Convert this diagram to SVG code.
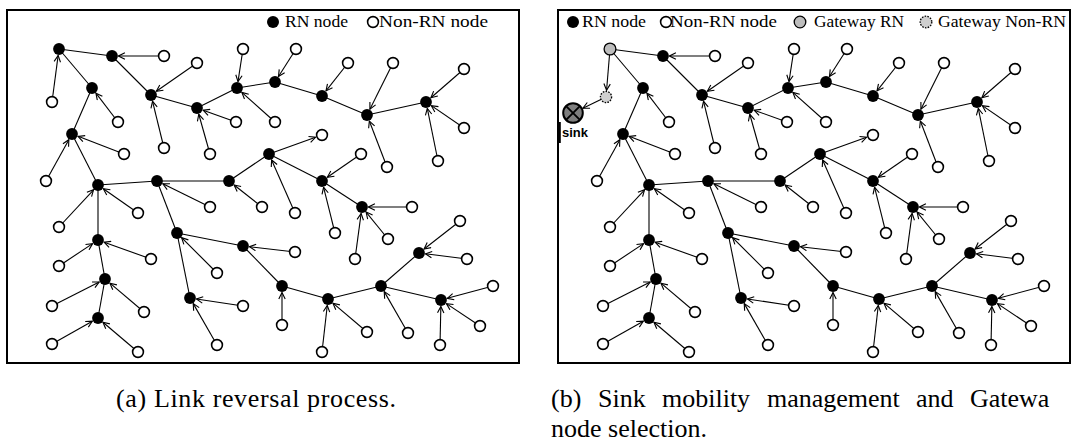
<svg xmlns="http://www.w3.org/2000/svg" width="1071" height="443" viewBox="0 0 1071 443">
<defs>
<style>
.frame{fill:#fff;stroke:#000;stroke-width:2}
.e{stroke:#000;stroke-width:1.1;fill:none}
.a{marker-end:url(#arr)}
.rn{fill:#000}
.nr{fill:#fff;stroke:#000;stroke-width:1.6}
.grn{fill:#bdbdbd;stroke:#000;stroke-width:1.3}
.gnr{fill:#cfcfcf;stroke:#000;stroke-width:1.3;stroke-dasharray:1.6 1.2}
.sink{fill:#7f7f7f;stroke:#000;stroke-width:2}
.lg{font-family:"Liberation Serif",serif;font-size:17.5px;fill:#000}
.cap{font-family:"Liberation Serif",serif;font-size:26px;fill:#000}
.lbl{font-family:"Liberation Sans",Arial,sans-serif;font-size:13px;font-weight:bold;fill:#000}
</style>
<marker id="arr" viewBox="0 0 10 10" refX="9" refY="5" markerWidth="8" markerHeight="8" markerUnits="userSpaceOnUse" orient="auto">
<path d="M1,1 L9,5 L1,9" fill="none" stroke="#000" stroke-width="1.4"/>
</marker>
</defs>
<rect width="1071" height="443" fill="#fff"/>

<!-- ===== Panel (a): link reversal ===== -->
<g id="panel-a">
<rect class="frame" x="7" y="10" width="512" height="353"/>
<g id="legend-a">
<circle class="rn" cx="273" cy="22" r="6"/>
<text class="lg" x="285" y="27" textLength="63" lengthAdjust="spacingAndGlyphs">RN node</text>
<circle class="nr" cx="373" cy="22" r="5.4"/>
<text class="lg" x="379" y="27" textLength="109" lengthAdjust="spacingAndGlyphs">Non-RN node</text>
</g>
<g id="links-a" class="e">
<line x1="59" y1="49" x2="112" y2="56"/>
<line x1="59" y1="49" x2="92" y2="88"/>
<line x1="112" y1="56" x2="151" y2="95"/>
<line x1="92" y1="88" x2="72" y2="134"/>
<line x1="72" y1="134" x2="98" y2="185"/>
<line x1="151" y1="95" x2="197" y2="108"/>
<line x1="197" y1="108" x2="237" y2="88"/>
<line x1="237" y1="88" x2="275" y2="82"/>
<line x1="275" y1="82" x2="322" y2="96"/>
<line x1="322" y1="96" x2="367" y2="115"/>
<line x1="367" y1="115" x2="426" y2="102"/>
<line x1="98" y1="185" x2="157" y2="181"/>
<line x1="157" y1="181" x2="229" y2="181"/>
<line x1="229" y1="181" x2="269" y2="154"/>
<line x1="269" y1="154" x2="322" y2="181"/>
<line x1="322" y1="181" x2="362" y2="207"/>
<line x1="157" y1="181" x2="177" y2="233"/>
<line x1="177" y1="233" x2="243" y2="246"/>
<line x1="177" y1="233" x2="190" y2="298"/>
<line x1="98" y1="185" x2="98" y2="240"/>
<line x1="98" y1="240" x2="105" y2="279"/>
<line x1="105" y1="279" x2="98" y2="318"/>
<line x1="243" y1="246" x2="282" y2="286"/>
<line x1="282" y1="286" x2="328" y2="299"/>
<line x1="328" y1="299" x2="381" y2="286"/>
<line x1="381" y1="286" x2="419" y2="253"/>
<line x1="381" y1="286" x2="441" y2="300"/>
<g class="a">
<line x1="164" y1="56" x2="118.5" y2="56"/>
<line x1="52" y1="102" x2="58.15" y2="55.44"/>
<line x1="197" y1="63" x2="156.34" y2="91.29"/>
<line x1="243" y1="49" x2="237.99" y2="81.58"/>
<line x1="118" y1="122" x2="95.95" y2="93.16"/>
<line x1="164" y1="148" x2="152.55" y2="101.31"/>
<line x1="236" y1="122" x2="203.12" y2="110.2"/>
<line x1="210" y1="154" x2="198.77" y2="114.25"/>
<line x1="124" y1="154" x2="78.07" y2="136.33"/>
<line x1="46" y1="181" x2="68.85" y2="139.69"/>
<line x1="296" y1="49" x2="278.49" y2="76.51"/>
<line x1="348" y1="63" x2="326.02" y2="90.89"/>
<line x1="393" y1="63" x2="369.91" y2="109.19"/>
<line x1="464" y1="69" x2="430.91" y2="97.74"/>
<line x1="464" y1="128" x2="431.36" y2="105.67"/>
<line x1="438" y1="161" x2="427.3" y2="108.37"/>
<line x1="387" y1="167" x2="369.33" y2="121.07"/>
<line x1="275" y1="122" x2="241.84" y2="92.34"/>
<line x1="269" y1="154" x2="315.6" y2="137.29"/>
<line x1="361" y1="154" x2="327.34" y2="177.3"/>
<line x1="210" y1="207" x2="162.84" y2="183.86"/>
<line x1="262" y1="207" x2="234.11" y2="185.02"/>
<line x1="295" y1="213" x2="271.62" y2="159.95"/>
<line x1="335" y1="233" x2="323.58" y2="187.31"/>
<line x1="412" y1="207" x2="368.5" y2="207"/>
<line x1="388" y1="239" x2="366.1" y2="212.04"/>
<line x1="355" y1="259" x2="361.13" y2="213.44"/>
<line x1="295" y1="252" x2="249.46" y2="246.75"/>
<line x1="217" y1="273" x2="181.6" y2="237.6"/>
<line x1="138" y1="213" x2="103.32" y2="188.73"/>
<line x1="59" y1="227" x2="93.58" y2="189.76"/>
<line x1="151" y1="259" x2="104.12" y2="242.19"/>
<line x1="59" y1="266" x2="92.59" y2="243.61"/>
<line x1="243" y1="306" x2="196.43" y2="298.97"/>
<line x1="217" y1="345" x2="193.24" y2="303.64"/>
<line x1="52" y1="306" x2="99.21" y2="281.95"/>
<line x1="144" y1="312" x2="109.96" y2="283.2"/>
<line x1="52" y1="344" x2="92.34" y2="321.2"/>
<line x1="138" y1="352" x2="102.95" y2="322.21"/>
<line x1="460" y1="221" x2="424.12" y2="249"/>
<line x1="467" y1="259" x2="425.45" y2="253.81"/>
<line x1="493" y1="286" x2="447.28" y2="298.31"/>
<line x1="480" y1="326" x2="446.41" y2="303.61"/>
<line x1="440" y1="345" x2="440.86" y2="306.5"/>
<line x1="282" y1="325" x2="282" y2="292.5"/>
<line x1="322" y1="352" x2="327.27" y2="305.46"/>
<line x1="367" y1="332" x2="332.96" y2="303.2"/>
<line x1="408" y1="333" x2="384.24" y2="291.64"/>
</g>
</g>
<g id="nodes-a">
<g id="a-rn-1"><circle class="rn" cx="59" cy="49" r="5.9"/></g>
<g id="a-rn-2"><circle class="rn" cx="112" cy="56" r="5.9"/></g>
<g id="a-rn-3"><circle class="rn" cx="92" cy="88" r="5.9"/></g>
<g id="a-rn-4"><circle class="rn" cx="151" cy="95" r="5.9"/></g>
<g id="a-rn-5"><circle class="rn" cx="197" cy="108" r="5.9"/></g>
<g id="a-rn-6"><circle class="rn" cx="237" cy="88" r="5.9"/></g>
<g id="a-rn-7"><circle class="rn" cx="275" cy="82" r="5.9"/></g>
<g id="a-rn-8"><circle class="rn" cx="322" cy="96" r="5.9"/></g>
<g id="a-rn-9"><circle class="rn" cx="367" cy="115" r="5.9"/></g>
<g id="a-rn-10"><circle class="rn" cx="426" cy="102" r="5.9"/></g>
<g id="a-rn-11"><circle class="rn" cx="72" cy="134" r="5.9"/></g>
<g id="a-rn-12"><circle class="rn" cx="269" cy="154" r="5.9"/></g>
<g id="a-rn-13"><circle class="rn" cx="98" cy="185" r="5.9"/></g>
<g id="a-rn-14"><circle class="rn" cx="157" cy="181" r="5.9"/></g>
<g id="a-rn-15"><circle class="rn" cx="229" cy="181" r="5.9"/></g>
<g id="a-rn-16"><circle class="rn" cx="322" cy="181" r="5.9"/></g>
<g id="a-rn-17"><circle class="rn" cx="362" cy="207" r="5.9"/></g>
<g id="a-rn-18"><circle class="rn" cx="177" cy="233" r="5.9"/></g>
<g id="a-rn-19"><circle class="rn" cx="243" cy="246" r="5.9"/></g>
<g id="a-rn-20"><circle class="rn" cx="98" cy="240" r="5.9"/></g>
<g id="a-rn-21"><circle class="rn" cx="105" cy="279" r="5.9"/></g>
<g id="a-rn-22"><circle class="rn" cx="190" cy="298" r="5.9"/></g>
<g id="a-rn-23"><circle class="rn" cx="98" cy="318" r="5.9"/></g>
<g id="a-rn-24"><circle class="rn" cx="282" cy="286" r="5.9"/></g>
<g id="a-rn-25"><circle class="rn" cx="328" cy="299" r="5.9"/></g>
<g id="a-rn-26"><circle class="rn" cx="381" cy="286" r="5.9"/></g>
<g id="a-rn-27"><circle class="rn" cx="441" cy="300" r="5.9"/></g>
<g id="a-rn-28"><circle class="rn" cx="419" cy="253" r="5.9"/></g>
<g id="a-nr-1"><circle class="nr" cx="164" cy="56" r="5.4"/></g>
<g id="a-nr-2"><circle class="nr" cx="52" cy="102" r="5.4"/></g>
<g id="a-nr-3"><circle class="nr" cx="197" cy="63" r="5.4"/></g>
<g id="a-nr-4"><circle class="nr" cx="243" cy="49" r="5.4"/></g>
<g id="a-nr-5"><circle class="nr" cx="118" cy="122" r="5.4"/></g>
<g id="a-nr-6"><circle class="nr" cx="164" cy="148" r="5.4"/></g>
<g id="a-nr-7"><circle class="nr" cx="236" cy="122" r="5.4"/></g>
<g id="a-nr-8"><circle class="nr" cx="210" cy="154" r="5.4"/></g>
<g id="a-nr-9"><circle class="nr" cx="124" cy="154" r="5.4"/></g>
<g id="a-nr-10"><circle class="nr" cx="46" cy="181" r="5.4"/></g>
<g id="a-nr-11"><circle class="nr" cx="296" cy="49" r="5.4"/></g>
<g id="a-nr-12"><circle class="nr" cx="348" cy="63" r="5.4"/></g>
<g id="a-nr-13"><circle class="nr" cx="393" cy="63" r="5.4"/></g>
<g id="a-nr-14"><circle class="nr" cx="464" cy="69" r="5.4"/></g>
<g id="a-nr-15"><circle class="nr" cx="464" cy="128" r="5.4"/></g>
<g id="a-nr-16"><circle class="nr" cx="438" cy="161" r="5.4"/></g>
<g id="a-nr-17"><circle class="nr" cx="387" cy="167" r="5.4"/></g>
<g id="a-nr-18"><circle class="nr" cx="275" cy="122" r="5.4"/></g>
<g id="a-nr-19"><circle class="nr" cx="322" cy="135" r="5.4"/></g>
<g id="a-nr-20"><circle class="nr" cx="361" cy="154" r="5.4"/></g>
<g id="a-nr-21"><circle class="nr" cx="210" cy="207" r="5.4"/></g>
<g id="a-nr-22"><circle class="nr" cx="262" cy="207" r="5.4"/></g>
<g id="a-nr-23"><circle class="nr" cx="295" cy="213" r="5.4"/></g>
<g id="a-nr-24"><circle class="nr" cx="335" cy="233" r="5.4"/></g>
<g id="a-nr-25"><circle class="nr" cx="412" cy="207" r="5.4"/></g>
<g id="a-nr-26"><circle class="nr" cx="388" cy="239" r="5.4"/></g>
<g id="a-nr-27"><circle class="nr" cx="355" cy="259" r="5.4"/></g>
<g id="a-nr-28"><circle class="nr" cx="295" cy="252" r="5.4"/></g>
<g id="a-nr-29"><circle class="nr" cx="217" cy="273" r="5.4"/></g>
<g id="a-nr-30"><circle class="nr" cx="138" cy="213" r="5.4"/></g>
<g id="a-nr-31"><circle class="nr" cx="59" cy="227" r="5.4"/></g>
<g id="a-nr-32"><circle class="nr" cx="151" cy="259" r="5.4"/></g>
<g id="a-nr-33"><circle class="nr" cx="59" cy="266" r="5.4"/></g>
<g id="a-nr-34"><circle class="nr" cx="243" cy="306" r="5.4"/></g>
<g id="a-nr-35"><circle class="nr" cx="217" cy="345" r="5.4"/></g>
<g id="a-nr-36"><circle class="nr" cx="52" cy="306" r="5.4"/></g>
<g id="a-nr-37"><circle class="nr" cx="144" cy="312" r="5.4"/></g>
<g id="a-nr-38"><circle class="nr" cx="52" cy="344" r="5.4"/></g>
<g id="a-nr-39"><circle class="nr" cx="138" cy="352" r="5.4"/></g>
<g id="a-nr-40"><circle class="nr" cx="460" cy="221" r="5.4"/></g>
<g id="a-nr-41"><circle class="nr" cx="467" cy="259" r="5.4"/></g>
<g id="a-nr-42"><circle class="nr" cx="493" cy="286" r="5.4"/></g>
<g id="a-nr-43"><circle class="nr" cx="480" cy="326" r="5.4"/></g>
<g id="a-nr-44"><circle class="nr" cx="440" cy="345" r="5.4"/></g>
<g id="a-nr-45"><circle class="nr" cx="282" cy="325" r="5.4"/></g>
<g id="a-nr-46"><circle class="nr" cx="322" cy="352" r="5.4"/></g>
<g id="a-nr-47"><circle class="nr" cx="367" cy="332" r="5.4"/></g>
<g id="a-nr-48"><circle class="nr" cx="408" cy="333" r="5.4"/></g>
</g>
<text class="cap" x="116" y="407" textLength="280">(a) Link reversal process.</text>
</g>

<!-- ===== Panel (b): sink mobility and gateway selection ===== -->
<g id="panel-b">
<rect class="frame" x="558" y="10" width="512" height="353"/>
<line x1="559.6" y1="122" x2="559.6" y2="143" stroke="#000" stroke-width="2.4"/>
<g id="legend-b">
<circle class="rn" cx="573" cy="22" r="6"/>
<text class="lg" x="582" y="27" textLength="64" lengthAdjust="spacingAndGlyphs">RN node</text>
<circle class="nr" cx="666" cy="22" r="5.4"/>
<text class="lg" x="670" y="27" textLength="107" lengthAdjust="spacingAndGlyphs">Non-RN node</text>
<circle class="grn" cx="800" cy="22" r="5.8"/>
<text class="lg" x="814" y="27" textLength="90" lengthAdjust="spacingAndGlyphs">Gateway RN</text>
<circle class="gnr" cx="926" cy="22" r="5.8"/>
<text class="lg" x="938" y="27" textLength="128" lengthAdjust="spacingAndGlyphs">Gateway Non-RN</text>
</g>
<g transform="translate(551,0)">
<g id="links-b" class="e">
<line x1="59" y1="49" x2="112" y2="56"/>
<line x1="59" y1="49" x2="92" y2="88"/>
<line x1="112" y1="56" x2="151" y2="95"/>
<line x1="92" y1="88" x2="72" y2="134"/>
<line x1="72" y1="134" x2="98" y2="185"/>
<line x1="151" y1="95" x2="197" y2="108"/>
<line x1="197" y1="108" x2="237" y2="88"/>
<line x1="237" y1="88" x2="275" y2="82"/>
<line x1="275" y1="82" x2="322" y2="96"/>
<line x1="322" y1="96" x2="367" y2="115"/>
<line x1="367" y1="115" x2="426" y2="102"/>
<line x1="98" y1="185" x2="157" y2="181"/>
<line x1="157" y1="181" x2="229" y2="181"/>
<line x1="229" y1="181" x2="269" y2="154"/>
<line x1="269" y1="154" x2="322" y2="181"/>
<line x1="322" y1="181" x2="362" y2="207"/>
<line x1="157" y1="181" x2="177" y2="233"/>
<line x1="177" y1="233" x2="243" y2="246"/>
<line x1="177" y1="233" x2="190" y2="298"/>
<line x1="98" y1="185" x2="98" y2="240"/>
<line x1="98" y1="240" x2="105" y2="279"/>
<line x1="105" y1="279" x2="98" y2="318"/>
<line x1="243" y1="246" x2="282" y2="286"/>
<line x1="282" y1="286" x2="328" y2="299"/>
<line x1="328" y1="299" x2="381" y2="286"/>
<line x1="381" y1="286" x2="419" y2="253"/>
<line x1="381" y1="286" x2="441" y2="300"/>
<g class="a">
<line x1="59" y1="49" x2="55.56" y2="90.22"/>
<line x1="55" y1="97" x2="31.9" y2="108.2"/>
<line x1="164" y1="56" x2="118.5" y2="56"/>
<line x1="197" y1="63" x2="156.34" y2="91.29"/>
<line x1="243" y1="49" x2="237.99" y2="81.58"/>
<line x1="118" y1="122" x2="95.95" y2="93.16"/>
<line x1="164" y1="148" x2="152.55" y2="101.31"/>
<line x1="236" y1="122" x2="203.12" y2="110.2"/>
<line x1="210" y1="154" x2="198.77" y2="114.25"/>
<line x1="124" y1="154" x2="78.07" y2="136.33"/>
<line x1="46" y1="181" x2="68.85" y2="139.69"/>
<line x1="296" y1="49" x2="278.49" y2="76.51"/>
<line x1="348" y1="63" x2="326.02" y2="90.89"/>
<line x1="393" y1="63" x2="369.91" y2="109.19"/>
<line x1="464" y1="69" x2="430.91" y2="97.74"/>
<line x1="464" y1="128" x2="431.36" y2="105.67"/>
<line x1="438" y1="161" x2="427.3" y2="108.37"/>
<line x1="387" y1="167" x2="369.33" y2="121.07"/>
<line x1="275" y1="122" x2="241.84" y2="92.34"/>
<line x1="269" y1="154" x2="315.6" y2="137.29"/>
<line x1="361" y1="154" x2="327.34" y2="177.3"/>
<line x1="210" y1="207" x2="162.84" y2="183.86"/>
<line x1="262" y1="207" x2="234.11" y2="185.02"/>
<line x1="295" y1="213" x2="271.62" y2="159.95"/>
<line x1="335" y1="233" x2="323.58" y2="187.31"/>
<line x1="412" y1="207" x2="368.5" y2="207"/>
<line x1="388" y1="239" x2="366.1" y2="212.04"/>
<line x1="355" y1="259" x2="361.13" y2="213.44"/>
<line x1="295" y1="252" x2="249.46" y2="246.75"/>
<line x1="217" y1="273" x2="181.6" y2="237.6"/>
<line x1="138" y1="213" x2="103.32" y2="188.73"/>
<line x1="59" y1="227" x2="93.58" y2="189.76"/>
<line x1="151" y1="259" x2="104.12" y2="242.19"/>
<line x1="59" y1="266" x2="92.59" y2="243.61"/>
<line x1="243" y1="306" x2="196.43" y2="298.97"/>
<line x1="217" y1="345" x2="193.24" y2="303.64"/>
<line x1="52" y1="306" x2="99.21" y2="281.95"/>
<line x1="144" y1="312" x2="109.96" y2="283.2"/>
<line x1="52" y1="344" x2="92.34" y2="321.2"/>
<line x1="138" y1="352" x2="102.95" y2="322.21"/>
<line x1="460" y1="221" x2="424.12" y2="249"/>
<line x1="467" y1="259" x2="425.45" y2="253.81"/>
<line x1="493" y1="286" x2="447.28" y2="298.31"/>
<line x1="480" y1="326" x2="446.41" y2="303.61"/>
<line x1="440" y1="345" x2="440.86" y2="306.5"/>
<line x1="282" y1="325" x2="282" y2="292.5"/>
<line x1="322" y1="352" x2="327.27" y2="305.46"/>
<line x1="367" y1="332" x2="332.96" y2="303.2"/>
<line x1="408" y1="333" x2="384.24" y2="291.64"/>
</g>
</g>
<g id="nodes-b">
<g id="b-sink"><circle class="sink" cx="22" cy="113" r="9.8"/><path d="M15.1,106.1 L28.9,119.9 M28.9,106.1 L15.1,119.9" stroke="#000" stroke-width="1.8"/><text class="lbl" x="11" y="137">sink</text></g>
<g id="b-gw-rn"><circle class="grn" cx="59" cy="49" r="5.9"/></g>
<g id="b-gw-nr"><circle class="gnr" cx="55" cy="97" r="5.6"/></g>
<g id="b-rn-2"><circle class="rn" cx="112" cy="56" r="5.9"/></g>
<g id="b-rn-3"><circle class="rn" cx="92" cy="88" r="5.9"/></g>
<g id="b-rn-4"><circle class="rn" cx="151" cy="95" r="5.9"/></g>
<g id="b-rn-5"><circle class="rn" cx="197" cy="108" r="5.9"/></g>
<g id="b-rn-6"><circle class="rn" cx="237" cy="88" r="5.9"/></g>
<g id="b-rn-7"><circle class="rn" cx="275" cy="82" r="5.9"/></g>
<g id="b-rn-8"><circle class="rn" cx="322" cy="96" r="5.9"/></g>
<g id="b-rn-9"><circle class="rn" cx="367" cy="115" r="5.9"/></g>
<g id="b-rn-10"><circle class="rn" cx="426" cy="102" r="5.9"/></g>
<g id="b-rn-11"><circle class="rn" cx="72" cy="134" r="5.9"/></g>
<g id="b-rn-12"><circle class="rn" cx="269" cy="154" r="5.9"/></g>
<g id="b-rn-13"><circle class="rn" cx="98" cy="185" r="5.9"/></g>
<g id="b-rn-14"><circle class="rn" cx="157" cy="181" r="5.9"/></g>
<g id="b-rn-15"><circle class="rn" cx="229" cy="181" r="5.9"/></g>
<g id="b-rn-16"><circle class="rn" cx="322" cy="181" r="5.9"/></g>
<g id="b-rn-17"><circle class="rn" cx="362" cy="207" r="5.9"/></g>
<g id="b-rn-18"><circle class="rn" cx="177" cy="233" r="5.9"/></g>
<g id="b-rn-19"><circle class="rn" cx="243" cy="246" r="5.9"/></g>
<g id="b-rn-20"><circle class="rn" cx="98" cy="240" r="5.9"/></g>
<g id="b-rn-21"><circle class="rn" cx="105" cy="279" r="5.9"/></g>
<g id="b-rn-22"><circle class="rn" cx="190" cy="298" r="5.9"/></g>
<g id="b-rn-23"><circle class="rn" cx="98" cy="318" r="5.9"/></g>
<g id="b-rn-24"><circle class="rn" cx="282" cy="286" r="5.9"/></g>
<g id="b-rn-25"><circle class="rn" cx="328" cy="299" r="5.9"/></g>
<g id="b-rn-26"><circle class="rn" cx="381" cy="286" r="5.9"/></g>
<g id="b-rn-27"><circle class="rn" cx="441" cy="300" r="5.9"/></g>
<g id="b-rn-28"><circle class="rn" cx="419" cy="253" r="5.9"/></g>
<g id="b-nr-1"><circle class="nr" cx="164" cy="56" r="5.4"/></g>
<g id="b-nr-3"><circle class="nr" cx="197" cy="63" r="5.4"/></g>
<g id="b-nr-4"><circle class="nr" cx="243" cy="49" r="5.4"/></g>
<g id="b-nr-5"><circle class="nr" cx="118" cy="122" r="5.4"/></g>
<g id="b-nr-6"><circle class="nr" cx="164" cy="148" r="5.4"/></g>
<g id="b-nr-7"><circle class="nr" cx="236" cy="122" r="5.4"/></g>
<g id="b-nr-8"><circle class="nr" cx="210" cy="154" r="5.4"/></g>
<g id="b-nr-9"><circle class="nr" cx="124" cy="154" r="5.4"/></g>
<g id="b-nr-10"><circle class="nr" cx="46" cy="181" r="5.4"/></g>
<g id="b-nr-11"><circle class="nr" cx="296" cy="49" r="5.4"/></g>
<g id="b-nr-12"><circle class="nr" cx="348" cy="63" r="5.4"/></g>
<g id="b-nr-13"><circle class="nr" cx="393" cy="63" r="5.4"/></g>
<g id="b-nr-14"><circle class="nr" cx="464" cy="69" r="5.4"/></g>
<g id="b-nr-15"><circle class="nr" cx="464" cy="128" r="5.4"/></g>
<g id="b-nr-16"><circle class="nr" cx="438" cy="161" r="5.4"/></g>
<g id="b-nr-17"><circle class="nr" cx="387" cy="167" r="5.4"/></g>
<g id="b-nr-18"><circle class="nr" cx="275" cy="122" r="5.4"/></g>
<g id="b-nr-19"><circle class="nr" cx="322" cy="135" r="5.4"/></g>
<g id="b-nr-20"><circle class="nr" cx="361" cy="154" r="5.4"/></g>
<g id="b-nr-21"><circle class="nr" cx="210" cy="207" r="5.4"/></g>
<g id="b-nr-22"><circle class="nr" cx="262" cy="207" r="5.4"/></g>
<g id="b-nr-23"><circle class="nr" cx="295" cy="213" r="5.4"/></g>
<g id="b-nr-24"><circle class="nr" cx="335" cy="233" r="5.4"/></g>
<g id="b-nr-25"><circle class="nr" cx="412" cy="207" r="5.4"/></g>
<g id="b-nr-26"><circle class="nr" cx="388" cy="239" r="5.4"/></g>
<g id="b-nr-27"><circle class="nr" cx="355" cy="259" r="5.4"/></g>
<g id="b-nr-28"><circle class="nr" cx="295" cy="252" r="5.4"/></g>
<g id="b-nr-29"><circle class="nr" cx="217" cy="273" r="5.4"/></g>
<g id="b-nr-30"><circle class="nr" cx="138" cy="213" r="5.4"/></g>
<g id="b-nr-31"><circle class="nr" cx="59" cy="227" r="5.4"/></g>
<g id="b-nr-32"><circle class="nr" cx="151" cy="259" r="5.4"/></g>
<g id="b-nr-33"><circle class="nr" cx="59" cy="266" r="5.4"/></g>
<g id="b-nr-34"><circle class="nr" cx="243" cy="306" r="5.4"/></g>
<g id="b-nr-35"><circle class="nr" cx="217" cy="345" r="5.4"/></g>
<g id="b-nr-36"><circle class="nr" cx="52" cy="306" r="5.4"/></g>
<g id="b-nr-37"><circle class="nr" cx="144" cy="312" r="5.4"/></g>
<g id="b-nr-38"><circle class="nr" cx="52" cy="344" r="5.4"/></g>
<g id="b-nr-39"><circle class="nr" cx="138" cy="352" r="5.4"/></g>
<g id="b-nr-40"><circle class="nr" cx="460" cy="221" r="5.4"/></g>
<g id="b-nr-41"><circle class="nr" cx="467" cy="259" r="5.4"/></g>
<g id="b-nr-42"><circle class="nr" cx="493" cy="286" r="5.4"/></g>
<g id="b-nr-43"><circle class="nr" cx="480" cy="326" r="5.4"/></g>
<g id="b-nr-44"><circle class="nr" cx="440" cy="345" r="5.4"/></g>
<g id="b-nr-45"><circle class="nr" cx="282" cy="325" r="5.4"/></g>
<g id="b-nr-46"><circle class="nr" cx="322" cy="352" r="5.4"/></g>
<g id="b-nr-47"><circle class="nr" cx="367" cy="332" r="5.4"/></g>
<g id="b-nr-48"><circle class="nr" cx="408" cy="333" r="5.4"/></g>
</g>
</g>
<text class="cap" y="407"><tspan x="551">(b)</tspan><tspan x="598">Sink</tspan><tspan x="662">mobility</tspan><tspan x="767">management</tspan><tspan x="916">and</tspan><tspan x="970">Gatewa</tspan></text>
<text class="cap" x="551" y="437">node selection.</text>
</g>
</svg>
